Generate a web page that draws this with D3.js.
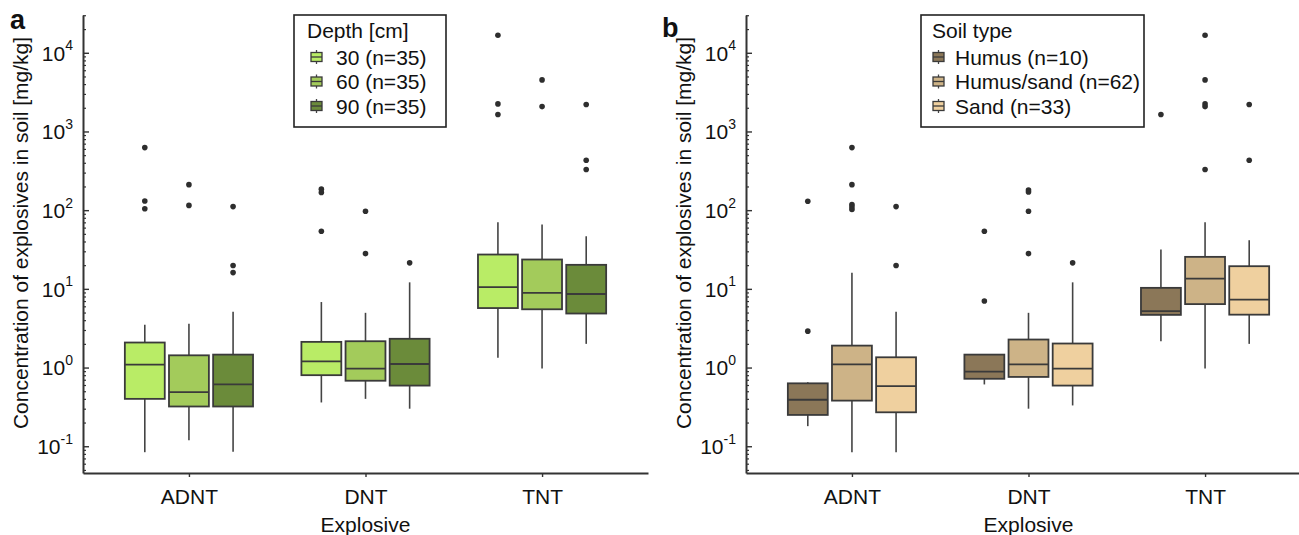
<!DOCTYPE html>
<html><head><meta charset="utf-8">
<script src="https://cdn.jsdelivr.net/npm/d3@7"></script>
<style>
body{margin:0;background:#fff}
svg{display:block}
text{font-family:"Liberation Sans",Arial,sans-serif;fill:#111}
</style>
</head><body>
<svg id="c" width="1299" height="535"></svg>
<script>
// ---------- data ----------
const categories = ["ADNT","DNT","TNT"];
const yTickValues = [0.1,1,10,100,1000,10000];
const yTickExponents = ["-1","0","1","2","3","4"];

const depthLabels = ["30 (n=35)","60 (n=35)","90 (n=35)"];
const depthColors = ["#b9ec66","#a3cb5b","#6b8b3a"];
// box stats per category: [lowerWhisker, Q1, median, Q3, upperWhisker]
const depth30 = [[0.084,0.40,1.09,2.08,3.5],[0.36,0.80,1.2,2.12,6.8],[1.33,5.7,10.5,27.3,70]];
const depth60 = [[0.119,0.32,0.486,1.43,3.6],[0.40,0.68,0.97,2.16,4.96],[0.97,5.5,8.9,23.6,65.6]];
const depth90 = [[0.085,0.32,0.61,1.46,5.1],[0.30,0.59,1.11,2.32,12.1],[2.0,4.86,8.6,20.2,46.6]];
const depth30Out = [[624,131,104],[185,168,54],[16700,2240,1640]];
const depth60Out = [[211,115],[97,28],[4520,2070]];
const depth90Out = [[111,19.8,16.1],[21.4],[2200,430,328]];

const soilLabels = ["Humus (n=10)","Humus/sand (n=62)","Sand (n=33)"];
const soilColors = ["#8b7758","#cdb387","#efd09f"];
const humus = [[0.18,0.25,0.39,0.63,0.65],[0.61,0.72,0.89,1.46,1.46],[2.16,4.67,5.2,10.3,31.6]];
const humusSand = [[0.084,0.38,1.10,1.9,16],[0.30,0.76,1.10,2.27,4.96],[0.97,6.4,13.5,25.5,70]];
const sand = [[0.084,0.27,0.58,1.35,5.1],[0.33,0.59,0.97,2.02,12.1],[2.0,4.7,7.3,19.4,41.5]];
const humusOut = [[130,2.9],[54,7.0],[1640]];
const humusSandOut = [[624,211,118,110,102],[180,170,97,28],[16700,4520,2240,2070,328]];
const sandOut = [[111,19.8],[21.4],[2200,430]];

// ---------- drawing ----------
const svg = d3.select("#c");
const INK = "#333";

const y = d3.scaleLog().domain([Math.pow(10,-1.34), Math.pow(10,4.48)]).range([473, 15]);
const minorTicks = [];
for (let d = -2; d <= 4; d++) for (let m = 2; m <= 9; m++) {
  const v = m * Math.pow(10, d);
  if (v >= y.domain()[0] && v <= y.domain()[1]) minorTicks.push(v);
}
const offsets = [-0.25, 0, 0.25];
const halfW = 0.113;

function drawPanel(cfg) {
  const g = svg.append("g");
  const x = d3.scaleLinear().domain([0.4, 3.6]).range([cfg.left, cfg.left + 565]);

  // minor y ticks
  const minor = g.append("g").attr("transform", `translate(${cfg.left},0)`)
    .call(d3.axisLeft(y).tickValues(minorTicks).tickSize(-3).tickFormat(""));
  minor.select(".domain").remove();
  minor.selectAll("line").attr("stroke", INK).attr("stroke-width", 1.2);

  // major y axis
  const ya = g.append("g").attr("transform", `translate(${cfg.left},0)`)
    .call(d3.axisLeft(y).tickValues(yTickValues).tickSizeInner(-6).tickSizeOuter(0).tickPadding(10)
      .tickFormat(() => ""));
  ya.select(".domain").attr("stroke", INK).attr("stroke-width", 2);
  ya.selectAll("line").attr("stroke", INK).attr("stroke-width", 1.4);
  ya.selectAll(".tick text").each(function(d, i) {
    const t = d3.select(this);
    t.attr("font-size", 21).attr("font-family", null).attr("dy", "0.35em").attr("fill", "#111");
    t.append("tspan").text("10");
    t.append("tspan").text(yTickExponents[i]).attr("font-size", 14).attr("dy", "-0.75em");
  });

  // x axis
  const xa = g.append("g").attr("transform", "translate(0,473)")
    .call(d3.axisBottom(x).tickValues([1,2,3]).tickFormat(d => categories[d-1])
      .tickSizeInner(4).tickSizeOuter(0).tickPadding(12));
  xa.select(".domain").attr("stroke", INK).attr("stroke-width", 2);
  xa.selectAll("line").attr("stroke", INK).attr("stroke-width", 1.4);
  xa.selectAll("text").attr("font-size", 21).attr("font-family", null).attr("fill", "#111");

  // boxes
  cfg.series.forEach((stats, j) => {
    stats.forEach((s, i) => {
      const c = i + 1 + offsets[j];
      const cx = x(c), x0 = x(c - halfW), x1 = x(c + halfW);
      g.append("line").attr("x1", cx).attr("x2", cx).attr("y1", y(s[0])).attr("y2", y(s[4]))
        .attr("stroke", "#444").attr("stroke-width", 1.6);
      g.append("rect").attr("x", x0).attr("y", y(s[3])).attr("width", x1 - x0)
        .attr("height", y(s[1]) - y(s[3])).attr("fill", cfg.colors[j])
        .attr("stroke", "#3a3a3a").attr("stroke-width", 1.8);
      g.append("line").attr("x1", x0).attr("x2", x1).attr("y1", y(s[2])).attr("y2", y(s[2]))
        .attr("stroke", "#3a3a3a").attr("stroke-width", 1.8);
      cfg.outliers[j][i].forEach(v => {
        g.append("circle").attr("cx", cx).attr("cy", y(v)).attr("r", 2.8).attr("fill", "#2e2e2e");
      });
    });
  });

  // axis titles
  g.append("text").attr("transform", `translate(${cfg.left - 55},233) rotate(-90)`)
    .attr("text-anchor", "middle").attr("font-size", 21)
    .text("Concentration of explosives in soil [mg/kg]");
  g.append("text").attr("x", x(2)).attr("y", 532).attr("text-anchor", "middle")
    .attr("font-size", 21).text("Explosive");

  // panel letter
  g.append("text").attr("x", cfg.letterX).attr("y", cfg.letterY).attr("font-size", 27)
    .attr("font-weight", "bold").attr("fill", "#000").text(cfg.letter);

  // legend
  const L = cfg.legend;
  const lg = g.append("g").attr("transform", `translate(${L.x},15)`);
  lg.append("rect").attr("x", 0).attr("y", 0).attr("width", L.w).attr("height", 112)
    .attr("fill", "#fff").attr("stroke", "#222").attr("stroke-width", 1.6);
  lg.append("text").attr("x", L.titleX).attr("y", 15).attr("dy", "0.36em")
    .attr("font-size", 21).text(L.title);
  cfg.labels.forEach((lab, j) => {
    const cy = 42 + j * 24.5;
    const ix = L.iconX;
    lg.append("line").attr("x1", ix + 5.5).attr("x2", ix + 5.5).attr("y1", cy - 7).attr("y2", cy + 7)
      .attr("stroke", "#444").attr("stroke-width", 1.3);
    lg.append("rect").attr("x", ix).attr("y", cy - 4.5).attr("width", 11).attr("height", 9)
      .attr("fill", cfg.colors[j]).attr("stroke", "#3a3a3a").attr("stroke-width", 1.3);
    lg.append("line").attr("x1", ix).attr("x2", ix + 11).attr("y1", cy).attr("y2", cy)
      .attr("stroke", "#3a3a3a").attr("stroke-width", 1.3);
    lg.append("text").attr("x", L.textX).attr("y", cy).attr("dy", "0.36em")
      .attr("font-size", 21).text(lab);
  });
}

drawPanel({
  left: 83, letter: "a", letterX: 10, letterY: 29,
  series: [depth30, depth60, depth90],
  outliers: [depth30Out, depth60Out, depth90Out],
  colors: depthColors, labels: depthLabels,
  legend: {x: 294, w: 152, title: "Depth [cm]", titleX: 13, iconX: 17, textX: 42}
});
drawPanel({
  left: 746, letter: "b", letterX: 662, letterY: 37,
  series: [humus, humusSand, sand],
  outliers: [humusOut, humusSandOut, sandOut],
  colors: soilColors, labels: soilLabels,
  legend: {x: 921, w: 223, title: "Soil type", titleX: 11, iconX: 12, textX: 34}
});
</script>
</body></html>
